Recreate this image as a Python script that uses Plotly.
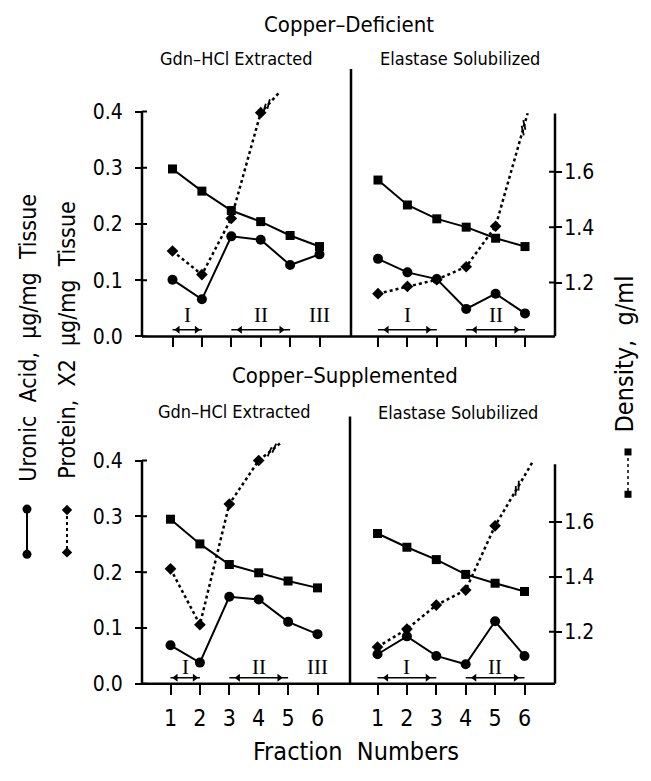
import math
import plotly.graph_objects as go

W, H = 651, 781
FW, FH = 651, 781
FONT = "DejaVu Sans Condensed, Liberation Sans Narrow, DejaVu Sans, sans-serif"
SERIF = "Liberation Serif, DejaVu Serif, serif"

# ---------------- data ----------------
fractions = [1, 2, 3, 4, 5, 6]
y_ticks = [0.0, 0.1, 0.2, 0.3, 0.4]
y_tick_text = ["0.0", "0.1", "0.2", "0.3", "0.4"]
dens_ticks = [1.0, 1.2, 1.4, 1.6]
dens_tick_text = ["1.0", "1.2", "1.4", "1.6"]
x_tick_text = ["1", "2", "3", "4", "5", "6"]

# Copper-Deficient, Gdn-HCl extracted
def_gdn_uronic = [0.101, 0.066, 0.178, 0.172, 0.127, 0.146]
def_gdn_protein = [0.152, 0.110, 0.210, 0.398]          # fractions 5-6 off scale
def_gdn_protein_tail = [4.65, 0.435]                     # where the dotted line leaves the frame
def_gdn_break = 4.2
def_gdn_density = [1.61, 1.53, 1.46, 1.42, 1.37, 1.33]
def_gdn_regions = [["I", 1, 2], ["II", 3, 5], ["III", 6, None]]

# Copper-Deficient, Elastase solubilized
def_ela_uronic = [0.138, 0.114, 0.102, 0.049, 0.076, 0.041]
def_ela_protein = [0.076, 0.089, 0.101, 0.124, 0.196]
def_ela_protein_tail = [6.09, 0.397]
def_ela_break = 5.95
def_ela_density = [1.57, 1.48, 1.43, 1.40, 1.36, 1.33]
def_ela_regions = [["I", 1, 3], ["II", 4, 6]]

# Copper-Supplemented, Gdn-HCl extracted
sup_gdn_uronic = [0.069, 0.038, 0.156, 0.151, 0.111, 0.089]
sup_gdn_protein = [0.206, 0.106, 0.322, 0.400]
sup_gdn_protein_tail = [4.76, 0.432]
sup_gdn_break = 4.45
sup_gdn_density = [1.61, 1.52, 1.445, 1.415, 1.385, 1.36]
sup_gdn_regions = [["I", 1, 2], ["II", 3, 5], ["III", 6, None]]

# Copper-Supplemented, Elastase solubilized
sup_ela_uronic = [0.053, 0.085, 0.050, 0.035, 0.112, 0.050]
sup_ela_protein = [0.066, 0.098, 0.141, 0.168, 0.283]
sup_ela_protein_tail = [6.26, 0.396]
sup_ela_break = 5.75
sup_ela_density = [1.558, 1.508, 1.463, 1.409, 1.377, 1.347]
sup_ela_regions = [["I", 1, 3], ["II", 4, 6]]

# ---------------- layout geometry (page pixels) ----------------
AX_L, AX_R = 142, 555
FPX = 29.4
DENS_AXIS_TOP = 1.81
RNG_TOP = 0.445
rows = {
    "top": dict(zero=341.7, unit=571.0, d_one=343.3, d_unit=281.5, div_x=351, div_top=70,
                ya="y", yd="y2", lab_y=0.038, arr_y=0.012),
    "bot": dict(zero=694.5, unit=567.0, d_one=697.5, d_unit=279.0, div_x=350, div_top=423,
                ya="y3", yd="y4", lab_y=0.030, arr_y=0.011),
}
subs = [
    dict(row="top", xa="x", x0=AX_L, x1=351, f1=172.5, uronic=def_gdn_uronic, protein=def_gdn_protein,
         tail=def_gdn_protein_tail, brk=def_gdn_break, density=def_gdn_density, regions=def_gdn_regions),
    dict(row="top", xa="x2", x0=351, x1=AX_R, f1=378.0, uronic=def_ela_uronic, protein=def_ela_protein,
         tail=def_ela_protein_tail, brk=def_ela_break, density=def_ela_density, regions=def_ela_regions),
    dict(row="bot", xa="x3", x0=AX_L, x1=350, f1=170.5, uronic=sup_gdn_uronic, protein=sup_gdn_protein,
         tail=sup_gdn_protein_tail, brk=sup_gdn_break, density=sup_gdn_density, regions=sup_gdn_regions),
    dict(row="bot", xa="x4", x0=350, x1=AX_R, f1=377.5, uronic=sup_ela_uronic, protein=sup_ela_protein,
         tail=sup_ela_protein_tail, brk=sup_ela_break, density=sup_ela_density, regions=sup_ela_regions),
]


def pxx(p):
    return p / FW


def pxy(p):
    return 1 - p / FH


TICK_SIZE = 21
fig = go.Figure()
layout = dict(width=FW, height=FH, margin=dict(l=0, r=0, t=0, b=0),
              paper_bgcolor="white", plot_bgcolor="rgba(0,0,0,0)", showlegend=False,
              font=dict(family=FONT, color="black", size=TICK_SIZE))
shapes, annotations = [], []
BLACK = "black"

# y axes
for key, r in rows.items():
    top_px = r["zero"] - RNG_TOP * r["unit"]
    dom = [pxy(r["zero"]), pxy(top_px)]
    yname = "yaxis" if r["ya"] == "y" else "yaxis" + r["ya"][1:]
    dname = "yaxis" + r["yd"][1:]
    layout[yname] = dict(domain=dom, range=[0, RNG_TOP], anchor="free", position=pxx(AX_L),
                         tickvals=y_ticks, ticktext=y_tick_text, ticks="outside", ticklen=7,
                         tickwidth=2, tickcolor=BLACK, showline=False, showgrid=False,
                         zeroline=False, ticklabelstandoff=8,
                         tickfont=dict(family=FONT, size=TICK_SIZE, color=BLACK))
    layout[dname] = dict(overlaying=r["ya"], side="right", anchor="free", position=pxx(AX_R),
                         range=[1 + (r["d_one"] - r["zero"]) / r["d_unit"],
                                1 + (r["d_one"] - top_px) / r["d_unit"]],
                         tickvals=dens_ticks, ticktext=dens_tick_text, ticks="outside", ticklen=6,
                         tickwidth=2, tickcolor=BLACK, showline=False, showgrid=False,
                         zeroline=False, ticklabelstandoff=-2,
                         tickfont=dict(family=FONT, size=TICK_SIZE, color=BLACK))
    # axis lines
    shapes.append(dict(type="line", xref="paper", yref="paper", x0=pxx(AX_L), x1=pxx(AX_R),
                       y0=pxy(r["zero"]), y1=pxy(r["zero"]), line=dict(color=BLACK, width=2.5)))
    shapes.append(dict(type="line", xref="paper", yref=r["ya"], x0=pxx(AX_L), x1=pxx(AX_L),
                       y0=0, y1=y_ticks[-1], line=dict(color=BLACK, width=2.5)))
    shapes.append(dict(type="line", xref="paper", yref=r["yd"], x0=pxx(AX_R), x1=pxx(AX_R),
                       y0=1 + (r["d_one"] - r["zero"]) / r["d_unit"], y1=DENS_AXIS_TOP,
                       line=dict(color=BLACK, width=2.5)))
    shapes.append(dict(type="line", xref="paper", yref="paper", x0=pxx(r["div_x"]), x1=pxx(r["div_x"]),
                       y0=pxy(r["zero"]), y1=pxy(r["div_top"]), line=dict(color=BLACK, width=2.5)))
    for v in y_ticks:
        shapes.append(dict(type="line", xref="paper", yref=r["ya"], x0=pxx(AX_L), x1=pxx(AX_L + 5),
                           y0=v, y1=v, line=dict(color=BLACK, width=2)))
    for d in dens_ticks:
        shapes.append(dict(type="line", xref="paper", yref=r["yd"], x0=pxx(AX_R - 6), x1=pxx(AX_R),
                           y0=d, y1=d, line=dict(color=BLACK, width=2)))

# x axes and traces
for s in subs:
    r = rows[s["row"]]
    xname = "xaxis" if s["xa"] == "x" else "xaxis" + s["xa"][1:]
    rng = [1 + (s["x0"] - s["f1"]) / FPX, 1 + (s["x1"] - s["f1"]) / FPX]
    layout[xname] = dict(domain=[pxx(s["x0"]), pxx(s["x1"])], range=rng, anchor=r["ya"],
                         tickvals=fractions, ticktext=x_tick_text, ticks="outside", ticklen=10,
                         tickwidth=2, tickcolor=BLACK, showline=False, showgrid=False,
                         zeroline=False, showticklabels=(s["row"] == "bot"), ticklabelstandoff=4,
                         tickfont=dict(family=FONT, size=23, color=BLACK))
    xa, ya, yd = s["xa"], r["ya"], r["yd"]
    # density (right axis)
    fig.add_trace(go.Scatter(x=fractions, y=s["density"], xaxis=xa, yaxis=yd, mode="lines+markers",
                             line=dict(color=BLACK, width=2),
                             marker=dict(symbol="square", size=9, color=BLACK), cliponaxis=False))
    # uronic acid
    fig.add_trace(go.Scatter(x=fractions, y=s["uronic"], xaxis=xa, yaxis=ya, mode="lines+markers",
                             line=dict(color=BLACK, width=2),
                             marker=dict(symbol="circle", size=10, color=BLACK), cliponaxis=False))
    # protein x2
    n = len(s["protein"])
    fig.add_trace(go.Scatter(x=fractions[:n] + [s["tail"][0]], y=s["protein"] + [s["tail"][1]],
                             xaxis=xa, yaxis=ya, mode="lines", line=dict(color=BLACK, width=2.5, dash="dot")))
    fig.add_trace(go.Scatter(x=fractions[:n], y=s["protein"], xaxis=xa, yaxis=ya, mode="markers",
                             marker=dict(symbol="diamond", size=9, color=BLACK), cliponaxis=False))
    # break marks on the off-scale protein line
    xa0, ya0 = fractions[n - 1], s["protein"][-1]
    xt, yt = s["tail"]
    t = (s["brk"] - xa0) / (xt - xa0)
    xb, yb = s["brk"], ya0 + t * (yt - ya0)
    dx, dy = (xt - xa0) * FPX, (yt - ya0) * r["unit"]
    L = math.hypot(dx, dy)
    ux, uy = dx / L, dy / L
    ang = math.atan2(uy, ux) + math.radians(28)
    mx, my = math.cos(ang), math.sin(ang)
    bx, by = [], []
    for off in (-3.0, 3.0):
        cx, cy = xb + off * ux / FPX, yb + off * uy / r["unit"]
        bx += [cx - 5 * mx / FPX, cx + 5 * mx / FPX, None]
        by += [cy - 5 * my / r["unit"], cy + 5 * my / r["unit"], None]
    fig.add_trace(go.Scatter(x=bx, y=by, xaxis=xa, yaxis=ya, mode="lines",
                             line=dict(color=BLACK, width=1.8)))
    # region labels and arrows
    for lab, a, b in s["regions"]:
        if b is None:
            annotations.append(dict(x=a, y=r["lab_y"], xref=xa, yref=ya, text=lab, showarrow=False,
                                    font=dict(family=SERIF, size=21, color=BLACK)))
            continue
        annotations.append(dict(x=(a + b) / 2, y=r["lab_y"], xref=xa, yref=ya, text=lab, showarrow=False,
                                font=dict(family=SERIF, size=21, color=BLACK)))
        fig.add_trace(go.Scatter(x=[a, b], y=[r["arr_y"], r["arr_y"]], xaxis=xa, yaxis=ya, mode="lines",
                                 line=dict(color=BLACK, width=1.5)))
        inset = 0.18 if (b - a) < 1.5 else 0.3
        fig.add_trace(go.Scatter(x=[a + inset, b - inset], y=[r["arr_y"], r["arr_y"]], xaxis=xa, yaxis=ya,
                                 mode="markers", marker=dict(symbol=["triangle-left", "triangle-right"],
                                                             size=7, color=BLACK), cliponaxis=False))

# overlay axis in page-pixel space for the legend glyphs
layout["xaxis5"] = dict(domain=[0, 1], range=[0, FW], visible=False, anchor="y5")
layout["yaxis5"] = dict(domain=[0, 1], range=[FH, 0], visible=False, anchor="x5")
fig.add_trace(go.Scatter(x=[27, 27], y=[517, 563], xaxis="x5", yaxis="y5", mode="lines+markers",
                         line=dict(color=BLACK, width=2), marker=dict(symbol="circle", size=9, color=BLACK)))
fig.add_trace(go.Scatter(x=[67, 67], y=[518, 561], xaxis="x5", yaxis="y5", mode="lines+markers",
                         line=dict(color=BLACK, width=2, dash="dot"),
                         marker=dict(symbol="diamond", size=8, color=BLACK)))
fig.add_trace(go.Scatter(x=[628, 628], y=[459, 502], xaxis="x5", yaxis="y5", mode="lines+markers",
                         line=dict(color=BLACK, width=1.5, dash="dot"),
                         marker=dict(symbol="square", size=7, color=BLACK)))

# texts
def txt(text, x, y, size, angle=0, family=FONT):
    annotations.append(dict(text=text, x=pxx(x), y=pxy(y), xref="paper", yref="paper", showarrow=False,
                            xanchor="center", yanchor="middle", textangle=angle,
                            font=dict(family=family, size=size, color=BLACK)))

txt("Copper\u2013Deficient", 349, 25, 22)
txt("Gdn\u2013HCl Extracted", 237, 59, 18)
txt("Elastase Solubilized", 460, 59, 18)
txt("Copper\u2013Supplemented", 345, 381, 22)
txt("Gdn\u2013HCl Extracted", 235, 418, 18)
txt("Elastase Solubilized", 458, 419, 18)
txt("Fraction  Numbers", 356, 763, 25)
txt("Uronic  Acid,  \u00b5g/mg  Tissue", 28, 343, 23, -90)
txt("Protein,  X2  \u00b5g/mg  Tissue", 67, 346, 23, -90)
txt("Density,  g/ml", 624, 360, 25, -90)

layout["shapes"] = shapes
layout["annotations"] = annotations
fig.update_layout(**layout)
fig.write_html("out.html", config={"displayModeBar": False},
               post_script="document.body.style.margin='0px';")
